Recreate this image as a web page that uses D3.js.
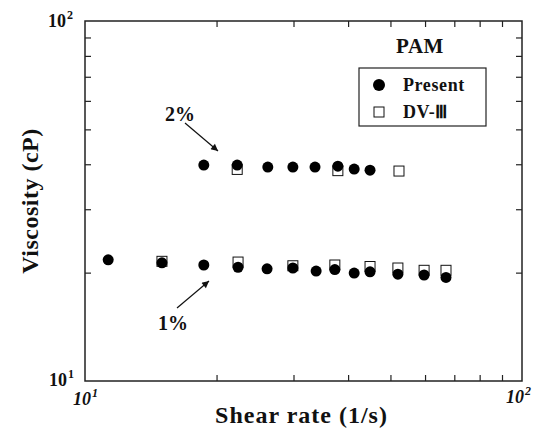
<!DOCTYPE html>
<html>
<head>
<meta charset="utf-8">
<script src="https://cdn.jsdelivr.net/npm/d3@7"></script>
<style>
  body { margin: 0; background: #fff; }
  svg text { font-family: "Liberation Serif", "Times New Roman", serif; font-weight: bold; fill: #111; }
</style>
</head>
<body>
<svg id="chart" width="540" height="438"></svg>
<script>
// Shear rate (1/s) and viscosity (cP)
const rate1Present = [11.3, 15.0, 18.7, 22.4, 26.1, 29.9, 33.8, 37.3, 41.3, 44.9, 52.0, 59.7, 67.0];
const visc1Present = [21.7, 21.3, 21.0, 20.7, 20.5, 20.6, 20.2, 20.4, 19.95, 20.1, 19.8, 19.7, 19.4];
const rate1DV = [15.0, 22.4, 29.9, 37.3, 44.9, 52.0, 59.7, 67.0];
const visc1DV = [21.5, 21.4, 20.9, 21.0, 20.8, 20.6, 20.3, 20.3];

const rate2Present = [18.7, 22.3, 26.2, 29.9, 33.6, 37.9, 41.3, 44.9];
const visc2Present = [39.8, 39.8, 39.3, 39.3, 39.3, 39.5, 38.8, 38.5];
const rate2DV = [22.3, 37.9, 52.3];
const visc2DV = [38.7, 38.4, 38.3];

const minorTicks = [20, 30, 40, 50, 60, 70, 80, 90];
const legendLabels = ["Present", "DV-\u2162"];

const svg = d3.select('#chart');
const margin = { top: 21, right: 18, bottom: 57, left: 85 };
const width = 540, height = 438;

const x = d3.scaleLog().domain([10, 100]).range([margin.left, width - margin.right]);
const y = d3.scaleLog().domain([10, 100]).range([height - margin.bottom, margin.top]);

// inward minor ticks on all four sides
const tick = 6;
function styleAxis(g) {
    g.select('.domain').remove();
    g.selectAll('line').attr('stroke', '#222').attr('stroke-width', 1.2);
}
svg.append('g').attr('transform', `translate(0,${y(10)})`)
    .call(d3.axisBottom(x).tickValues(minorTicks).tickSizeInner(-tick).tickSizeOuter(0).tickFormat(''))
    .call(styleAxis);
svg.append('g').attr('transform', `translate(0,${y(100)})`)
    .call(d3.axisTop(x).tickValues(minorTicks).tickSizeInner(-tick).tickSizeOuter(0).tickFormat(''))
    .call(styleAxis);
svg.append('g').attr('transform', `translate(${x(10)},0)`)
    .call(d3.axisLeft(y).tickValues(minorTicks).tickSizeInner(-tick).tickSizeOuter(0).tickFormat(''))
    .call(styleAxis);
svg.append('g').attr('transform', `translate(${x(100)},0)`)
    .call(d3.axisRight(y).tickValues(minorTicks).tickSizeInner(-tick).tickSizeOuter(0).tickFormat(''))
    .call(styleAxis);

// frame
svg.append('rect')
    .attr('x', x(10)).attr('y', y(100))
    .attr('width', x(100) - x(10)).attr('height', y(10) - y(100))
    .attr('fill', 'none').attr('stroke', '#222').attr('stroke-width', 1.5);

// tick labels as powers of ten
function powerLabel(px, py, exp, italic) {
    const t = svg.append('text').attr('x', px).attr('y', py)
        .attr('font-size', 18)
        .attr('font-style', italic ? 'italic' : 'normal');
    t.append('tspan').text('10');
    t.append('tspan').attr('dy', -8).attr('dx', 1).attr('font-size', 12).text(exp);
}
powerLabel(48, y(100) + 6, '2', false);
powerLabel(49, y(10) + 5, '1', false);
powerLabel(x(10) - 12, y(10) + 24, '1', true);
powerLabel(x(100) - 16, y(10) + 22, '2', true);

// axis titles
svg.append('text')
    .attr('x', (x(10) + x(100)) / 2 - 2).attr('y', 423)
    .attr('text-anchor', 'middle').attr('font-size', 24).attr('letter-spacing', 1)
    .text('Shear rate (1/s)');
svg.append('text')
    .attr('transform', `translate(38,${(y(10) + y(100)) / 2}) rotate(-90)`)
    .attr('text-anchor', 'middle').attr('font-size', 24).attr('letter-spacing', 0.5)
    .text('Viscosity (cP)');

// DV-III squares underneath, Present circles on top
const sq = 10;
const dvPoints = rate1DV.map((r, i) => ({ r, v: visc1DV[i] }))
    .concat(rate2DV.map((r, i) => ({ r, v: visc2DV[i] })));
svg.append('g').selectAll('rect')
    .data(dvPoints)
    .join('rect')
    .attr('x', d => x(d.r) - sq / 2)
    .attr('y', d => y(d.v) - sq / 2)
    .attr('width', sq).attr('height', sq)
    .attr('fill', '#fff').attr('stroke', '#111').attr('stroke-width', 1);

const presentPoints = rate1Present.map((r, i) => ({ r, v: visc1Present[i] }))
    .concat(rate2Present.map((r, i) => ({ r, v: visc2Present[i] })));
svg.append('g').selectAll('circle')
    .data(presentPoints)
    .join('circle')
    .attr('cx', d => x(d.r))
    .attr('cy', d => y(d.v))
    .attr('r', 5.5)
    .attr('fill', '#000');

// arrows and concentration labels
svg.append('defs').append('marker')
    .attr('id', 'head')
    .attr('viewBox', '0 0 10 10')
    .attr('refX', 10).attr('refY', 5)
    .attr('markerWidth', 9).attr('markerHeight', 7)
    .attr('markerUnits', 'userSpaceOnUse')
    .attr('orient', 'auto')
    .append('path').attr('d', 'M0,0 L10,5 L0,10 Z').attr('fill', '#111');

function arrow(x1, y1, x2, y2) {
    svg.append('line')
        .attr('x1', x1).attr('y1', y1).attr('x2', x2).attr('y2', y2)
        .attr('stroke', '#111').attr('stroke-width', 1.2)
        .attr('marker-end', 'url(#head)');
}
arrow(185, 123, 218, 151);
arrow(177, 308, 209, 281);

svg.append('text').attr('x', 165).attr('y', 121).attr('font-size', 20).text('2%');
svg.append('text').attr('x', 158).attr('y', 330).attr('font-size', 20).text('1%');

// legend
svg.append('text').attr('x', 420).attr('y', 53)
    .attr('text-anchor', 'middle').attr('font-size', 21).attr('letter-spacing', 0.5)
    .text('PAM');
svg.append('rect')
    .attr('x', 359).attr('y', 68).attr('width', 127).attr('height', 58)
    .attr('fill', 'none').attr('stroke', '#222').attr('stroke-width', 1.2);

const legend = svg.append('g');
legend.append('circle').attr('cx', 379).attr('cy', 85).attr('r', 6).attr('fill', '#000');
legend.append('rect').attr('x', 374).attr('y', 107).attr('width', 10).attr('height', 10)
    .attr('fill', '#fff').attr('stroke', '#111').attr('stroke-width', 1);
legend.selectAll('text.lab')
    .data(legendLabels)
    .join('text')
    .attr('class', 'lab')
    .attr('x', 403)
    .attr('y', (d, i) => 91 + i * 27)
    .attr('font-size', 18).attr('letter-spacing', 0.6)
    .text(d => d);
</script>
</body>
</html>
